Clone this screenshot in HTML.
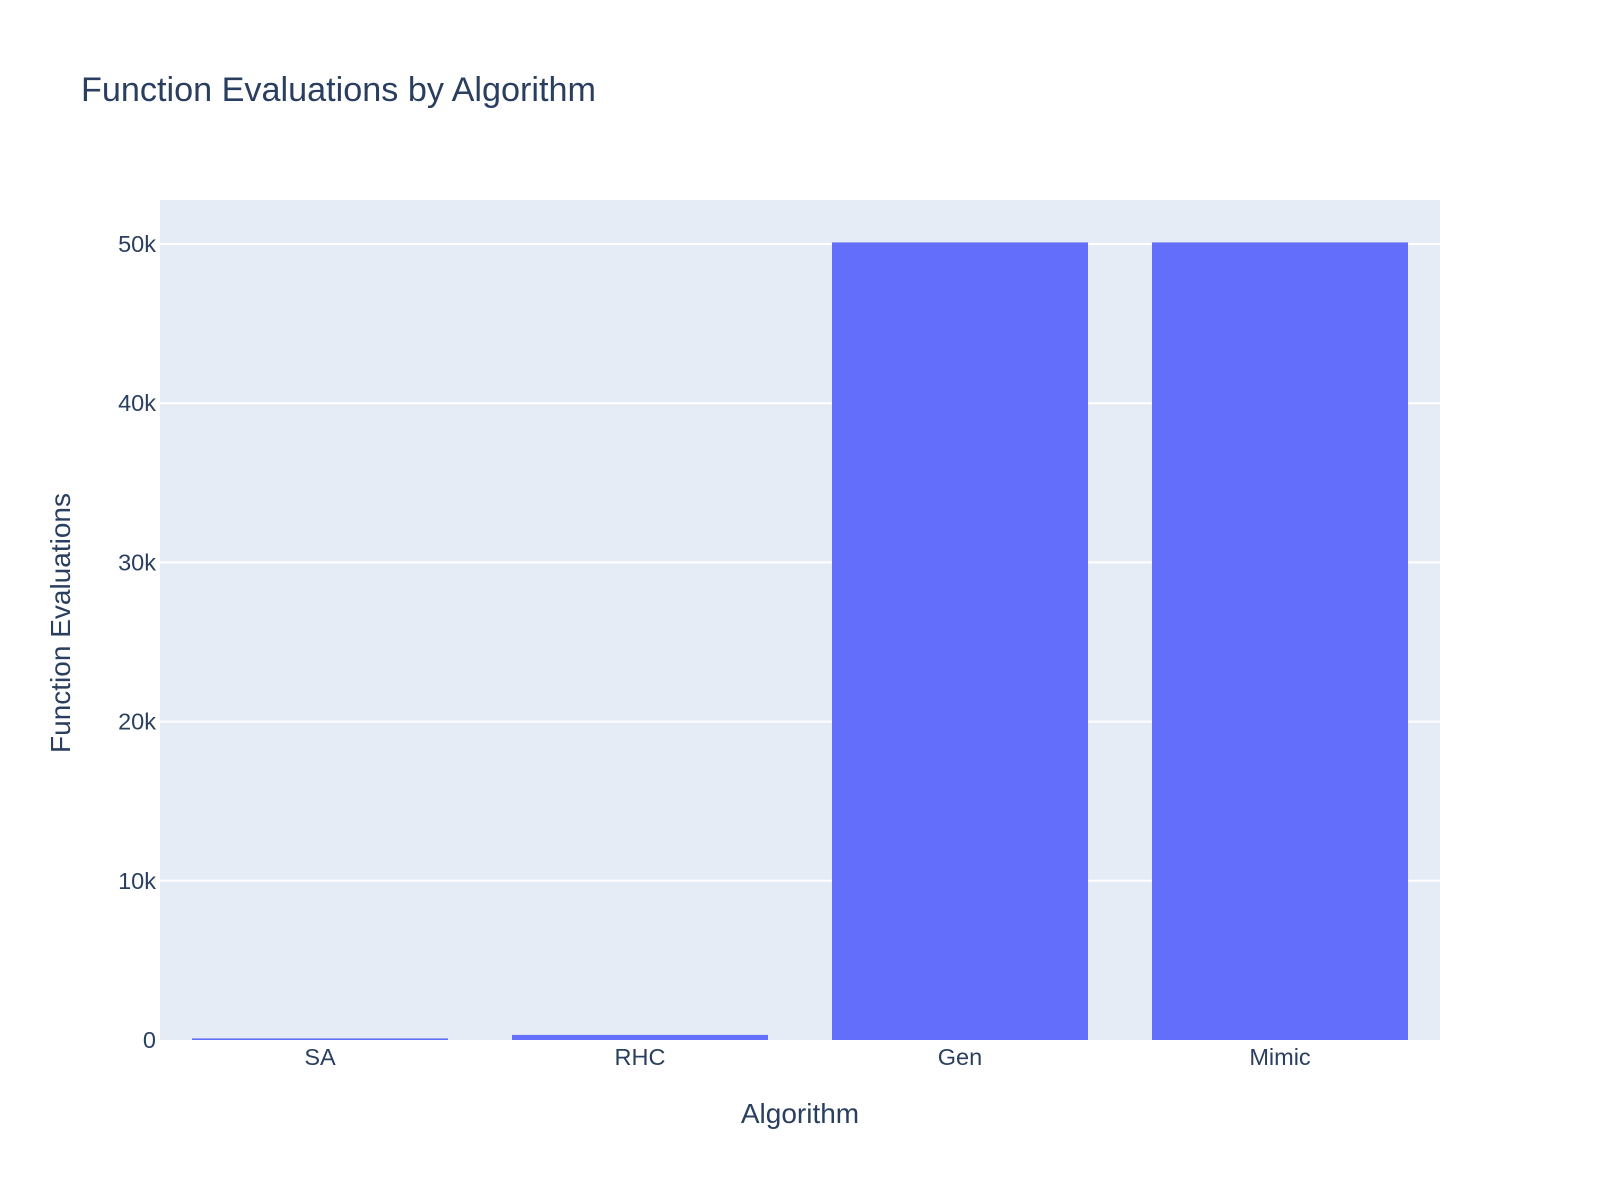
<!DOCTYPE html>
<html><head><meta charset="utf-8"><style>body{margin:0;background:#fff}svg{display:block;font-family:"Liberation Sans",Arial,sans-serif}</style></head>
<body>
<svg id="chart" width="1600" height="1200">
<text x="81" y="101" font-size="34.2" fill="#2a3f5f">Function Evaluations by Algorithm</text>
<rect x="160" y="200" width="1280" height="840" fill="#e5ecf6"/>
<g id="grid"></g><g id="bars"></g><g id="ticks"></g>
<text x="800" y="1123" font-size="28" fill="#2a3f5f" text-anchor="middle">Algorithm</text>
<text transform="translate(70,623) rotate(-90)" font-size="28" fill="#2a3f5f" text-anchor="middle">Function Evaluations</text>
</svg>
<script>
const categories=["SA","RHC","Gen","Mimic"];
const values=[100,320,50100,50100];
const yTicks=[0,10000,20000,30000,40000,50000];
const yTickLabels=["0","10k","20k","30k","40k","50k"];
const NS="http://www.w3.org/2000/svg";
const L=160,R=1440,T=200,B=1040,YMAX=52764;
document.querySelector('rect').setAttribute('width',R-L);
const y=v=>B-(v/YMAX)*(B-T);
const bw=(R-L)/categories.length;
const x=i=>L+bw*i+bw/2;
function mk(t,a,p){const e=document.createElementNS(NS,t);for(const k in a)e.setAttribute(k,a[k]);p.appendChild(e);return e;}
const grid=document.getElementById('grid'),bars=document.getElementById('bars'),ticks=document.getElementById('ticks');
yTicks.forEach((v,i)=>{
 if(v>0){const g=mk('line',{x1:L,x2:R,y1:y(v),y2:y(v),stroke:'#fff','stroke-width':2},grid);
 
 }
 const t=mk('text',{x:L-4,y:y(v)+8,'font-size':23.5,fill:'#2a3f5f','text-anchor':'end'},ticks);
 t.textContent=yTickLabels[i];
 
 
});
categories.forEach((c,i)=>{
 const w=bw*0.8;
 const r=mk('rect',{x:x(i)-w/2,y:y(values[i]),width:w,height:B-y(values[i]),fill:'#636efa'},bars);
 
 
 const t=mk('text',{x:x(i),y:B+25,'font-size':23.5,fill:'#2a3f5f','text-anchor':'middle'},ticks);
 t.textContent=c;
 
 
});
</script>
</body></html>
